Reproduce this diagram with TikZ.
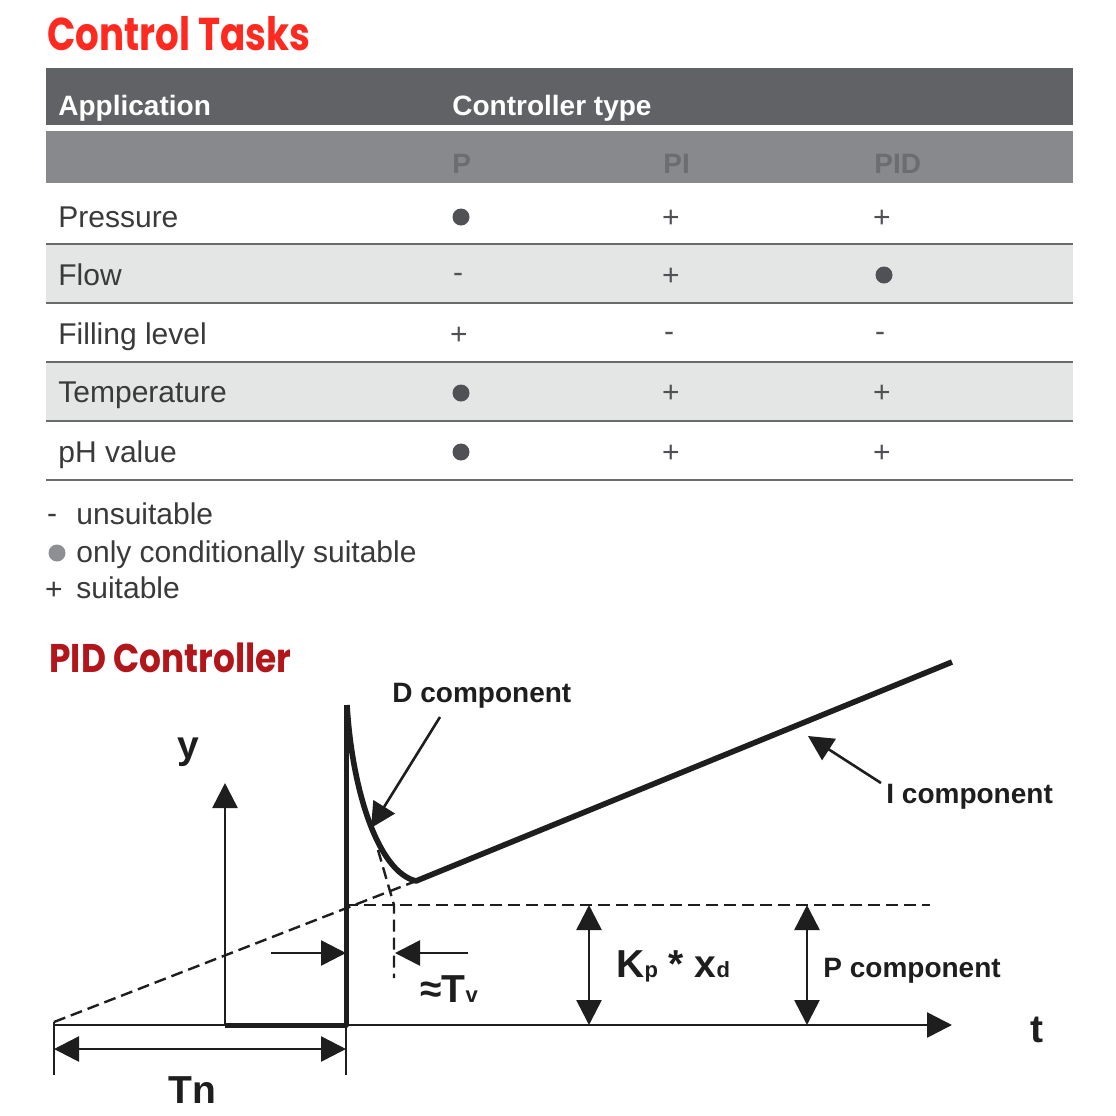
\documentclass[tikz,border=0pt]{standalone}
\usepackage{fontspec}
\setmainfont{Liberation Sans}
\newfontfamily\titlefont{Poppins}
\usetikzlibrary{arrows.meta}
\usetikzlibrary{positioning}

\definecolor{titlered}{HTML}{FF2A1F}
\definecolor{pidred}{HTML}{B2161A}
\definecolor{hdrdark}{HTML}{616265}
\definecolor{hdrmid}{HTML}{88898C}
\definecolor{subtext}{HTML}{6C6D70}
\definecolor{rowgray}{HTML}{E4E5E5}
\definecolor{rule}{HTML}{6B6B6B}
\definecolor{ink}{HTML}{3A3A3C}
\definecolor{markgray}{HTML}{505154}
\definecolor{legdot}{HTML}{8E8F92}
\definecolor{plotink}{HTML}{1E1E1E}

\tikzset{
title/.style={anchor=base west, inner sep=0pt, font=\titlefont\bfseries\fontsize{23}{26}\selectfont},
hdr/.style={anchor=base west, inner sep=0pt, text=white, font=\bfseries\fontsize{14}{17}\selectfont},
subhdr/.style={anchor=base west, inner sep=0pt, text=subtext, font=\bfseries\fontsize{14}{17}\selectfont},
rowtext/.style={anchor=base west, inner sep=0pt, text=ink, font=\fontsize{15}{18}\selectfont},
dotmark/.style={circle, fill=markgray, inner sep=0pt, minimum size=8.5pt},
plusmark/.style={anchor=base, inner sep=0pt, text=markgray, font=\fontsize{15}{18}\selectfont},
rowrule/.style={draw=rule, line width=1.2pt},
axis/.style={draw=plotink, line width=1.3pt},
heavy/.style={draw=plotink, line width=3pt, line join=round},
dashline/.style={draw=plotink, line width=1.2pt, dash pattern=on 6pt off 3pt},
bigtip/.style={-{Triangle[length=12.5pt,width=12.5pt]}},
bothtips/.style={{Triangle[length=12.5pt,width=12.5pt]}-{Triangle[length=12.5pt,width=12.5pt]}},
lbl/.style={anchor=base west, inner sep=0pt, text=plotink, font=\bfseries\fontsize{14}{17}\selectfont},
biglbl/.style={anchor=base west, inner sep=0pt, text=plotink, font=\bfseries\fontsize{19.5}{22}\selectfont}}

\begin{document}
\begin{tikzpicture}[x=0.5pt,y=-0.5pt]
	\useasboundingbox[fill=white] (0,0) rectangle (1116,1116);
	% table
	\node[title, text=titlered] (tasks) at (47,50) {\scalebox{0.81}[1]{Control Tasks}};
	\fill[hdrdark] (46,68) rectangle (1073,125);
	\fill[hdrmid] (46,131) rectangle (1073,183);
	\fill[rowgray] (46,245) rectangle (1073,302);
	\fill[rowgray] (46,363) rectangle (1073,420);
	\draw[rowrule] (46,244) -- (1073,244);
	\draw[rowrule] (46,303) -- (1073,303);
	\draw[rowrule] (46,362) -- (1073,362);
	\draw[rowrule] (46,421) -- (1073,421);
	\draw[rowrule] (46,480) -- (1073,480);
	\node[hdr] (app) at (58,115) {Application};
	\node[hdr] (ctype) at (452,115) {Controller type};
	\node[subhdr] (colp) at (452,173) {P};
	\node[subhdr] (colpi) at (663,173) {PI};
	\node[subhdr] (colpid) at (874,173) {PID};
	\node[rowtext] (pressure) at (58,227) {Pressure};
	\node[dotmark] (pressure-p) at (461,217) {};
	\node[plusmark] (pressure-pi) at (671,227) {+};
	\node[plusmark] (pressure-pid) at (882,227) {+};
	\node[rowtext] (flow) at (58,285) {Flow};
	\node[plusmark] (flow-p) at (458,282) {-};
	\node[plusmark] (flow-pi) at (671,285) {+};
	\node[dotmark] (flow-pid) at (884,275) {};
	\node[rowtext] (filling) at (58,344) {Filling level};
	\node[plusmark] (filling-p) at (459,344) {+};
	\node[plusmark] (filling-pi) at (669,341) {-};
	\node[plusmark] (filling-pid) at (880,341) {-};
	\node[rowtext] (temp) at (58,402) {Temperature};
	\node[dotmark] (temp-p) at (461,393) {};
	\node[plusmark] (temp-pi) at (671,402) {+};
	\node[plusmark] (temp-pid) at (882,402) {+};
	\node[rowtext] (ph) at (58,462) {pH value};
	\node[dotmark] (ph-p) at (461,452) {};
	\node[plusmark] (ph-pi) at (671,462) {+};
	\node[plusmark] (ph-pid) at (882,462) {+};
	% legend
	\node[plusmark, text=ink] (leg-minus) at (52,523) {-};
	\node[rowtext] (unsuit) at (76,524) {unsuitable};
	\node[dotmark, fill=legdot] (leg-dot) at (57,553) {};
	\node[rowtext] (condsuit) at (76,562) {only conditionally suitable};
	\node[plusmark, text=ink] (leg-plus) at (54,599) {+};
	\node[rowtext] (suit) at (76,598) {suitable};
	% PID response
	\node[title, text=pidred, font=\titlefont\bfseries\fontsize{20}{24}\selectfont] (pidtitle) at (49,672) {\scalebox{0.86}[1]{PID Controller}};
	\coordinate (orig) at (54,1025);
	\coordinate (tend) at (952,1025);
	\coordinate (step) at (225,1025);
	\coordinate (ytop) at (225,783);
	\coordinate (jump) at (346,1025);
	\coordinate (peak) at (346,705);
	\coordinate (knee) at (416,881);
	\coordinate (iend) at (952,662);
	\coordinate (pbase) at (346,905);
	\coordinate (pend) at (930,905);
	\coordinate (dslope) at (54,1022);
	\coordinate (tangent) at (378,850);
	\coordinate (tvtop) at (394,905);
	\coordinate (tvbot) at (394,978);
	\draw[axis, bigtip] (orig) -- (tend);
	\draw[axis] (54,1022) -- (54,1075);
	\draw[axis] (jump) -- (346,1075);
	\draw[axis, bothtips] (54,1049) -- (346,1049);
	\draw[axis, bigtip] (step) -- (ytop);
	\draw[heavy, line width=2.5pt] (step) -- (jump) -- (peak);
	\draw[heavy, line width=2.8pt] (347,705) .. controls (352,790) and (378,872) .. (knee) -- (iend);
	\draw[dashline] (dslope) -- (knee);
	\draw[dashline] (pbase) -- (pend);
	\draw[dashline] (tangent) -- (tvtop) -- (tvbot);
	\draw[axis, bigtip] (271,953) -- (346,953);
	\draw[axis, bigtip] (468,953) -- (395,953);
	\draw[axis, bothtips] (589,905) -- (589,1025);
	\draw[axis, bothtips] (807,905) -- (807,1025);
	\node[lbl] (dcomp) at (392,702) {D component};
	\node[lbl] (icomp) at (886,803) {I component};
	\node[lbl] (pcomp) at (823,977) {P component};
	\draw[axis, bigtip] (440,717) -- (371,828);
	\draw[axis, bigtip] (881,783) -- (808,736);
	\node[biglbl] (ylab) at (177,758) {y};
	\node[biglbl] (tlab) at (1030,1042) {t};
	\node[biglbl] (tnlab) at (168,1103) {Tn};
	\node[biglbl] (tvlab) at (420,1002) {≈T{\fontsize{11}{11}\selectfont v}};
	\node[biglbl] (kplab) at (616,977) {K{\fontsize{11}{11}\selectfont p} * x{\fontsize{11}{11}\selectfont d}};
\end{tikzpicture}
\end{document}
